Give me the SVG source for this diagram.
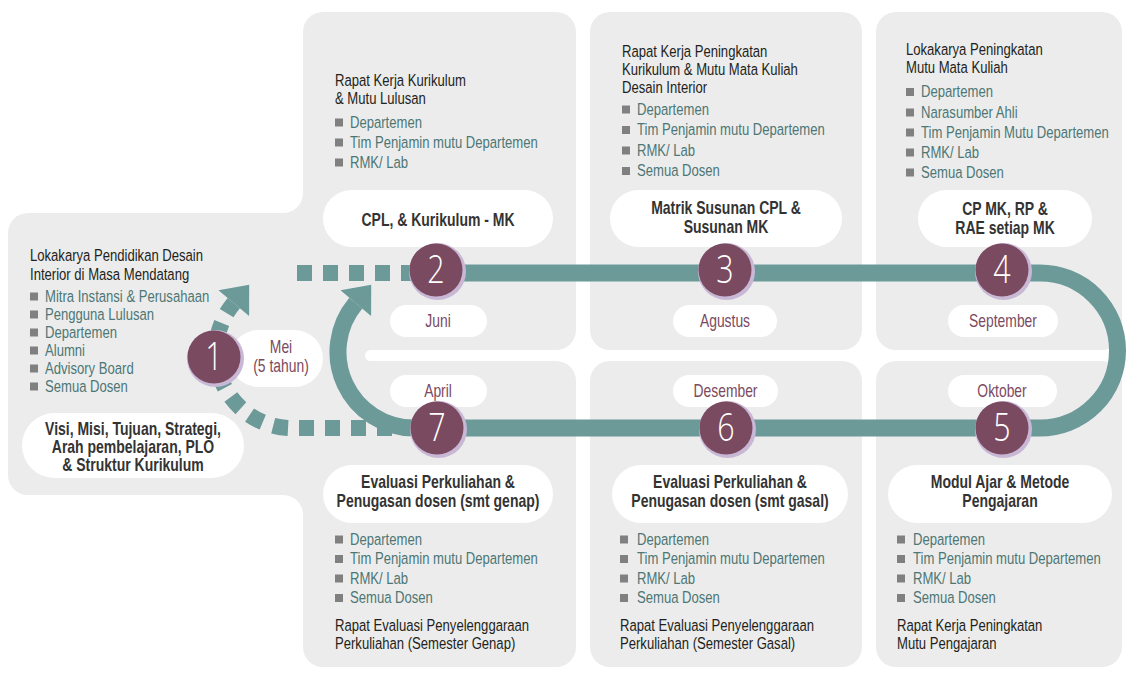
<svg xmlns="http://www.w3.org/2000/svg" width="1126" height="673" viewBox="0 0 1126 673">
<style>
text{font-family:'Liberation Sans',Arial,sans-serif}
.panel{fill:#ececec}
.pill{fill:#ffffff}
.t{font-size:17px;fill:#231f20}
.l{font-size:17px;fill:#4d7775}
.b{font-size:17.5px;font-weight:bold;fill:#333333;text-anchor:middle}
.m{font-size:18.5px;fill:#7b4a5f;text-anchor:middle}
.n{font-family:'Open Sans','Liberation Sans',sans-serif;font-weight:300;font-size:38px;fill:#ffffff;text-anchor:middle}
.bul{fill:#808080}
.ring{fill:#c9b7d6}
.node{fill:#7a4a60}
.track{fill:none;stroke:#6b9a98;stroke-width:17}
.dash{fill:none;stroke:#6b9a98;stroke-width:16;stroke-dasharray:15 11}
.head{fill:#6b9a98}
</style>
<rect width="1126" height="673" fill="#ffffff"/>
<g id="background">
  <rect class="panel" x="303" y="12" width="273" height="338" rx="20"/>
  <rect class="panel" x="303" y="361" width="273" height="306" rx="20"/>
  <rect class="panel" x="303" y="330" width="77" height="50"/>
  <rect class="pill" x="365" y="350" width="40" height="11" rx="5.5"/>
  <rect class="panel" x="8" y="213" width="320" height="282" rx="20"/>
  <path class="panel" d="M303 193 L303 213 L283 213 A20 20 0 0 0 303 193 Z"/>
  <path class="panel" d="M303 515 L303 495 L283 495 A20 20 0 0 1 303 515 Z"/>
  <rect class="panel" x="590" y="12" width="272" height="338" rx="20"/>
  <rect class="panel" x="590" y="361" width="272" height="306" rx="20"/>
  <rect class="panel" x="876" y="12" width="246" height="338" rx="20"/>
  <rect class="panel" x="876" y="361" width="246" height="306" rx="20"/>
</g>
<g id="connectors">
  <path class="track" d="M436 273 L1040 273 A77.5 77.5 0 0 1 1040 428 L414 428 A76 76 0 0 1 355.8 303.1"/>
  <polygon class="head" points="340.5,290.2 371.1,316 371.2,284.7"/>
  <path class="dash" d="M297 273 L420 273"/>
  <path class="dash" d="M392 428 L292 428 A76 76 0 0 1 233.8 303.1"/>
  <polygon class="head" points="218.5,290.2 249.1,316 249.2,284.7"/>
</g>
<g id="step1">
  <g transform="translate(30 0) scale(0.77 1)">
    <text class="t" x="0" y="261">Lokakarya Pendidikan Desain</text>
    <text class="t" x="0" y="280">Interior di Masa Mendatang</text>
  </g>
  <rect class="bul" x="30" y="292.5" width="8" height="8"/>
  <rect class="bul" x="30" y="310.5" width="8" height="8"/>
  <rect class="bul" x="30" y="328.5" width="8" height="8"/>
  <rect class="bul" x="30" y="346.5" width="8" height="8"/>
  <rect class="bul" x="30" y="364.5" width="8" height="8"/>
  <rect class="bul" x="30" y="382.5" width="8" height="8"/>
  <g transform="translate(45 0) scale(0.77 1)">
    <text class="l" x="0" y="302">Mitra Instansi &amp; Perusahaan</text>
    <text class="l" x="0" y="320">Pengguna Lulusan</text>
    <text class="l" x="0" y="338">Departemen</text>
    <text class="l" x="0" y="356">Alumni</text>
    <text class="l" x="0" y="374">Advisory Board</text>
    <text class="l" x="0" y="392">Semua Dosen</text>
  </g>
  <rect class="pill" x="22" y="413" width="222" height="65" rx="32.5"/>
  <g transform="translate(133 0) scale(0.8 1)">
    <text class="b" x="0" y="435">Visi, Misi, Tujuan, Strategi,</text>
    <text class="b" x="0" y="453">Arah pembelajaran, PLO</text>
    <text class="b" x="0" y="471">&amp; Struktur Kurikulum</text>
  </g>
  <rect class="pill" x="230" y="330" width="93" height="57" rx="28.5"/>
  <g transform="translate(281 0) scale(0.75 1)">
    <text class="m" x="0" y="353">Mei</text>
    <text class="m" x="0" y="372">(5 tahun)</text>
  </g>
  <circle class="ring" cx="215.5" cy="358.5" r="28.5"/>
  <circle class="node" cx="214" cy="357" r="26.5"/>
  <g transform="translate(214 0) scale(0.8 1)"><text class="n" x="0" y="370.5">1</text></g>
</g>
<g id="step2">
  <g transform="translate(335 0) scale(0.77 1)">
    <text class="t" x="0" y="86">Rapat Kerja Kurikulum</text>
    <text class="t" x="0" y="104">&amp; Mutu Lulusan</text>
  </g>
  <rect class="bul" x="335" y="118.5" width="8" height="8"/>
  <rect class="bul" x="335" y="138.5" width="8" height="8"/>
  <rect class="bul" x="335" y="158.5" width="8" height="8"/>
  <g transform="translate(350 0) scale(0.77 1)">
    <text class="l" x="0" y="128">Departemen</text>
    <text class="l" x="0" y="148">Tim Penjamin mutu Departemen</text>
    <text class="l" x="0" y="168">RMK/ Lab</text>
  </g>
  <rect class="pill" x="323" y="190" width="230" height="57" rx="28.5"/>
  <g transform="translate(438 0) scale(0.8 1)"><text class="b" x="0" y="226">CPL, &amp; Kurikulum - MK</text></g>
  <rect class="pill" x="390" y="305" width="97" height="32" rx="16"/>
  <g transform="translate(438 0) scale(0.75 1)"><text class="m" x="0" y="327.5">Juni</text></g>
  <circle class="ring" cx="437.5" cy="271.5" r="28.5"/>
  <circle class="node" cx="436" cy="270" r="26.5"/>
  <g transform="translate(436 0) scale(0.8 1)"><text class="n" x="0" y="283.5">2</text></g>
</g>
<g id="step3">
  <g transform="translate(622 0) scale(0.77 1)">
    <text class="t" x="0" y="57">Rapat Kerja Peningkatan</text>
    <text class="t" x="0" y="75">Kurikulum &amp; Mutu Mata Kuliah</text>
    <text class="t" x="0" y="93">Desain Interior</text>
  </g>
  <rect class="bul" x="622" y="105.5" width="8" height="8"/>
  <rect class="bul" x="622" y="126" width="8" height="8"/>
  <rect class="bul" x="622" y="146.5" width="8" height="8"/>
  <rect class="bul" x="622" y="167" width="8" height="8"/>
  <g transform="translate(637 0) scale(0.77 1)">
    <text class="l" x="0" y="115">Departemen</text>
    <text class="l" x="0" y="135.5">Tim Penjamin mutu Departemen</text>
    <text class="l" x="0" y="156">RMK/ Lab</text>
    <text class="l" x="0" y="176.5">Semua Dosen</text>
  </g>
  <rect class="pill" x="610" y="190" width="232" height="57" rx="28.5"/>
  <g transform="translate(726 0) scale(0.8 1)">
    <text class="b" x="0" y="214">Matrik Susunan CPL &amp;</text>
    <text class="b" x="0" y="233">Susunan MK</text>
  </g>
  <rect class="pill" x="673" y="305" width="104" height="32" rx="16"/>
  <g transform="translate(725 0) scale(0.75 1)"><text class="m" x="0" y="327.5">Agustus</text></g>
  <circle class="ring" cx="726.5" cy="271.5" r="28.5"/>
  <circle class="node" cx="725" cy="270" r="26.5"/>
  <g transform="translate(725 0) scale(0.8 1)"><text class="n" x="0" y="283.5">3</text></g>
</g>
<g id="step4">
  <g transform="translate(906 0) scale(0.77 1)">
    <text class="t" x="0" y="55.5">Lokakarya Peningkatan</text>
    <text class="t" x="0" y="73.5">Mutu Mata Kuliah</text>
  </g>
  <rect class="bul" x="906" y="88" width="8" height="8"/>
  <rect class="bul" x="906" y="108.5" width="8" height="8"/>
  <rect class="bul" x="906" y="128.5" width="8" height="8"/>
  <rect class="bul" x="906" y="148.5" width="8" height="8"/>
  <rect class="bul" x="906" y="168.5" width="8" height="8"/>
  <g transform="translate(921 0) scale(0.77 1)">
    <text class="l" x="0" y="97.5">Departemen</text>
    <text class="l" x="0" y="118">Narasumber Ahli</text>
    <text class="l" x="0" y="138">Tim Penjamin Mutu Departemen</text>
    <text class="l" x="0" y="158">RMK/ Lab</text>
    <text class="l" x="0" y="178">Semua Dosen</text>
  </g>
  <rect class="pill" x="918" y="190" width="174" height="57" rx="28.5"/>
  <g transform="translate(1005 0) scale(0.8 1)">
    <text class="b" x="0" y="215">CP MK, RP &amp;</text>
    <text class="b" x="0" y="234">RAE setiap MK</text>
  </g>
  <rect class="pill" x="948" y="305" width="110" height="32" rx="16"/>
  <g transform="translate(1003 0) scale(0.75 1)"><text class="m" x="0" y="327.5">September</text></g>
  <circle class="ring" cx="1003.5" cy="271.5" r="28.5"/>
  <circle class="node" cx="1002" cy="270" r="26.5"/>
  <g transform="translate(1002 0) scale(0.8 1)"><text class="n" x="0" y="283.5">4</text></g>
</g>
<g id="step5">
  <rect class="pill" x="948" y="375" width="109" height="32" rx="16"/>
  <g transform="translate(1002 0) scale(0.75 1)"><text class="m" x="0" y="397.5">Oktober</text></g>
  <circle class="ring" cx="1003.5" cy="429.5" r="28.5"/>
  <circle class="node" cx="1002" cy="428" r="26.5"/>
  <g transform="translate(1002 0) scale(0.8 1)"><text class="n" x="0" y="441.5">5</text></g>
  <rect class="pill" x="888" y="465" width="224" height="58" rx="29"/>
  <g transform="translate(1000 0) scale(0.8 1)">
    <text class="b" x="0" y="488">Modul Ajar &amp; Metode</text>
    <text class="b" x="0" y="507">Pengajaran</text>
  </g>
  <rect class="bul" x="897" y="535.5" width="8" height="8"/>
  <rect class="bul" x="897" y="555" width="8" height="8"/>
  <rect class="bul" x="897" y="574.5" width="8" height="8"/>
  <rect class="bul" x="897" y="594" width="8" height="8"/>
  <g transform="translate(913 0) scale(0.77 1)">
    <text class="l" x="0" y="545">Departemen</text>
    <text class="l" x="0" y="564.5">Tim Penjamin mutu Departemen</text>
    <text class="l" x="0" y="584">RMK/ Lab</text>
    <text class="l" x="0" y="603.5">Semua Dosen</text>
  </g>
  <g transform="translate(897 0) scale(0.77 1)">
    <text class="t" x="0" y="631">Rapat Kerja Peningkatan</text>
    <text class="t" x="0" y="649">Mutu Pengajaran</text>
  </g>
</g>
<g id="step6">
  <rect class="pill" x="673" y="375" width="105" height="32" rx="16"/>
  <g transform="translate(725.5 0) scale(0.75 1)"><text class="m" x="0" y="397.5">Desember</text></g>
  <circle class="ring" cx="727.5" cy="429.5" r="28.5"/>
  <circle class="node" cx="726" cy="428" r="26.5"/>
  <g transform="translate(726 0) scale(0.8 1)"><text class="n" x="0" y="441.5">6</text></g>
  <rect class="pill" x="612" y="465" width="236" height="58" rx="29"/>
  <g transform="translate(730 0) scale(0.8 1)">
    <text class="b" x="0" y="488">Evaluasi Perkuliahan &amp;</text>
    <text class="b" x="0" y="507">Penugasan dosen (smt gasal)</text>
  </g>
  <rect class="bul" x="620" y="535.5" width="8" height="8"/>
  <rect class="bul" x="620" y="555" width="8" height="8"/>
  <rect class="bul" x="620" y="574.5" width="8" height="8"/>
  <rect class="bul" x="620" y="594" width="8" height="8"/>
  <g transform="translate(637 0) scale(0.77 1)">
    <text class="l" x="0" y="545">Departemen</text>
    <text class="l" x="0" y="564.5">Tim Penjamin mutu Departemen</text>
    <text class="l" x="0" y="584">RMK/ Lab</text>
    <text class="l" x="0" y="603.5">Semua Dosen</text>
  </g>
  <g transform="translate(620 0) scale(0.77 1)">
    <text class="t" x="0" y="631">Rapat Evaluasi Penyelenggaraan</text>
    <text class="t" x="0" y="649">Perkuliahan (Semester Gasal)</text>
  </g>
</g>
<g id="step7">
  <rect class="pill" x="390" y="375" width="97" height="32" rx="16"/>
  <g transform="translate(438 0) scale(0.75 1)"><text class="m" x="0" y="397.5">April</text></g>
  <circle class="ring" cx="438.5" cy="429.5" r="28.5"/>
  <circle class="node" cx="437" cy="428" r="26.5"/>
  <g transform="translate(437 0) scale(0.8 1)"><text class="n" x="0" y="441.5">7</text></g>
  <rect class="pill" x="323" y="465" width="230" height="58" rx="29"/>
  <g transform="translate(438 0) scale(0.8 1)">
    <text class="b" x="0" y="488">Evaluasi Perkuliahan &amp;</text>
    <text class="b" x="0" y="507">Penugasan dosen (smt genap)</text>
  </g>
  <rect class="bul" x="335" y="535.5" width="8" height="8"/>
  <rect class="bul" x="335" y="555" width="8" height="8"/>
  <rect class="bul" x="335" y="574.5" width="8" height="8"/>
  <rect class="bul" x="335" y="594" width="8" height="8"/>
  <g transform="translate(350 0) scale(0.77 1)">
    <text class="l" x="0" y="545">Departemen</text>
    <text class="l" x="0" y="564.5">Tim Penjamin mutu Departemen</text>
    <text class="l" x="0" y="584">RMK/ Lab</text>
    <text class="l" x="0" y="603.5">Semua Dosen</text>
  </g>
  <g transform="translate(335 0) scale(0.77 1)">
    <text class="t" x="0" y="631">Rapat Evaluasi Penyelenggaraan</text>
    <text class="t" x="0" y="649">Perkuliahan (Semester Genap)</text>
  </g>
</g>
</svg>
